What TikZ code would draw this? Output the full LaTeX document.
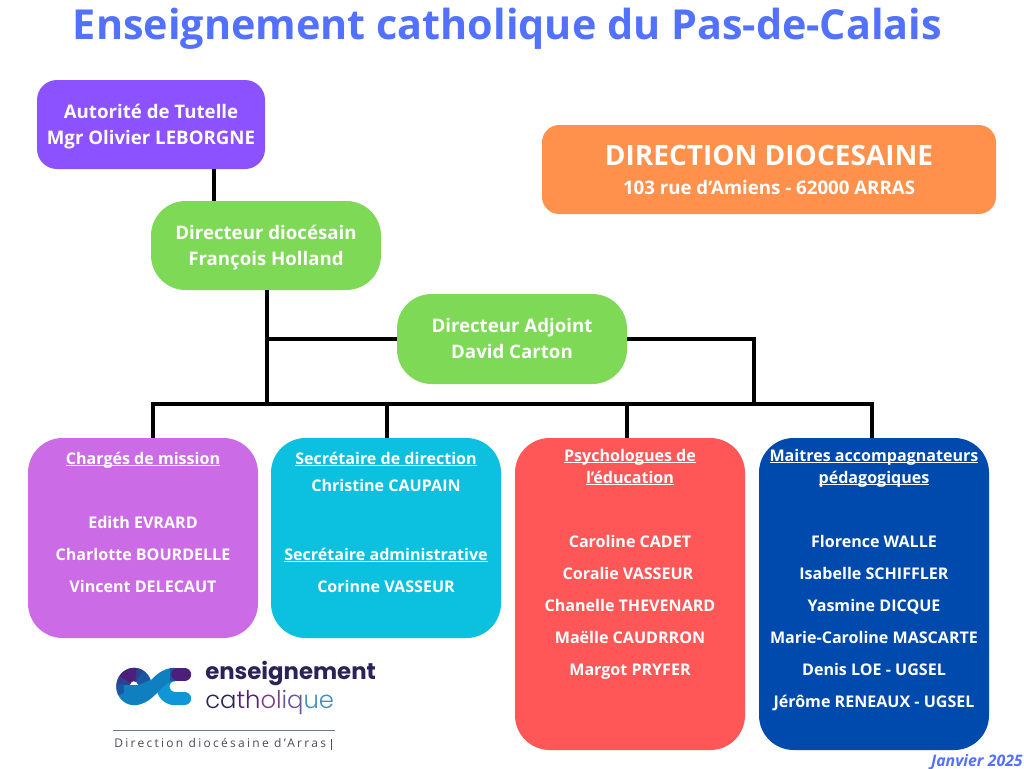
\documentclass[tikz,border=0pt]{standalone}
\usepackage{fontspec}
\setmainfont{Open Sans}
\newfontfamily\logofont{Poppins}
\newfontfamily\logolightfont{Poppins Light}
\newfontfamily\dirfont[LetterSpace=19]{Open Sans}
\definecolor{titleblue}{HTML}{5271FF}
\definecolor{cpurple}{HTML}{8C52FF}
\definecolor{corange}{HTML}{FF914D}
\definecolor{cgreen}{HTML}{7ED957}
\definecolor{cviolet}{HTML}{CB6CE6}
\definecolor{ccyan}{HTML}{0CC0DF}
\definecolor{cred}{HTML}{FF5757}
\definecolor{cblue}{HTML}{004AAD}
\definecolor{logonavy}{HTML}{2A2358}
\definecolor{logoblue}{HTML}{0F7FC0}
\definecolor{logolight}{HTML}{0F96D6}
\definecolor{logodark}{HTML}{1D55A0}
\definecolor{logoplum}{HTML}{4B1F7A}
\definecolor{logomid}{HTML}{7A3E86}
\definecolor{logoteal}{HTML}{3F8FB8}
\definecolor{slateline}{HTML}{6C7A90}
\definecolor{slatetext}{HTML}{4A4A60}
\tikzset{
  box/.style={rectangle,inner sep=0pt,outer sep=0pt,anchor=north west},
  conn/.style={draw=black,line width=3pt,line cap=butt,line join=miter},
  tl/.style={text=white,font=\fontsize{12.05}{14}\selectfont\bfseries,inner sep=0pt,anchor=base},
  tb/.style={tl,font=\fontsize{14}{16}\selectfont\bfseries},
  ecseg/.style={line width=10pt,line cap=butt,line join=round},
}
\newsavebox{\ulbox}
\newcommand{\ul}[1]{\sbox{\ulbox}{#1}\rlap{\rule[-1.6pt]{\wd\ulbox}{0.7pt}}\usebox{\ulbox}}
\begin{document}
\begin{tikzpicture}[x=0.75pt,y=-0.75pt]
\useasboundingbox (0,0) rectangle (1024,768);
\fill[white] (0,0) rectangle (1024,768);
\node[text=titleblue,font=\fontsize{31}{36}\selectfont\bfseries,inner sep=0pt,anchor=base] (title) at (507.5,39) {Enseignement catholique du Pas-de-Calais};
% connector helpers
\coordinate (bus) at (267,404);
\coordinate (busL) at (151,404);
\coordinate (busR) at (874,404);
\coordinate (elbow) at (754,339);
\coordinate (dirout) at (267,290);
\coordinate (t1) at (214,169);
% boxes
\node[box,fill=cpurple,rounded corners=15pt,minimum width=171pt,minimum height=66.75pt] (tutelle) at (37,80) {};
\node[box,fill=cgreen,rounded corners=26pt,minimum width=172.5pt,minimum height=66.75pt] (dir) at (151,201) {};
\node[box,fill=cgreen,rounded corners=26pt,minimum width=172.5pt,minimum height=67.5pt] (adj) at (397,294) {};
\node[box,fill=corange,rounded corners=13pt,minimum width=340.5pt,minimum height=66.75pt] (dd) at (542,125) {};
\node[box,fill=cviolet,rounded corners=26pt,minimum width=172.5pt,minimum height=150pt] (miss) at (28,438) {};
\node[box,fill=ccyan,rounded corners=26pt,minimum width=172.5pt,minimum height=150pt] (secr) at (271,438) {};
\node[box,fill=cred,rounded corners=26pt,minimum width=172.5pt,minimum height=234pt] (psy) at (515,438) {};
\node[box,fill=cblue,rounded corners=26pt,minimum width=172.5pt,minimum height=234pt] (map) at (759,438) {};
% connectors
\draw[conn] (t1) -- (t1 |- dir.north);
\draw[conn] (dirout) -- (bus);
\draw[conn] (dirout |- adj.west) -- (adj.west);
\draw[conn] (adj.east) -- (elbow) -- (elbow |- bus);
\draw[conn] (busL) -- (busR);
\draw[conn] (153,404) -- (153,404 |- miss.north);
\draw[conn] (387,404) -- (387,404 |- secr.north);
\draw[conn] (627,404) -- (627,404 |- psy.north);
\draw[conn] (872,404) -- (872,404 |- map.north);
% box texts
\node[tb] (t1a) at (151,118) {Autorité de Tutelle};
\node[tb] (t1b) at (151,144) {Mgr Olivier LEBORGNE};
\node[tb] (d1) at (266,239) {Directeur diocésain};
\node[tb] (d2) at (266,265) {François Holland};
\node[tb] (a1) at (512,332) {Directeur Adjoint};
\node[tb] (a2) at (512,358) {David Carton};
\node[tl,font=\fontsize{21}{25}\selectfont\bfseries] (dd1) at (769,165) {DIRECTION DIOCESAINE};
\node[tb] (dd2) at (769,194) {103 rue d’Amiens - 62000 ARRAS};
% Chargés de mission
\node[tl] (m0) at (143,464) {\ul{Chargés de mission}};
\node[tl] (m1) at (143,528) {Edith EVRARD};
\node[tl] (m2) at (143,560) {Charlotte BOURDELLE};
\node[tl] (m3) at (143,592) {Vincent DELECAUT};
% Secrétaires
\node[tl] (s0) at (386,464) {\ul{Secrétaire de direction}};
\node[tl] (s1) at (386,491) {Christine CAUPAIN};
\node[tl] (s2) at (386,560) {\ul{Secrétaire administrative}};
\node[tl] (s3) at (386,592) {Corinne VASSEUR};
% Psychologues
\node[tl] (p0) at (630,461) {\ul{Psychologues de}};
\node[tl] (p0b) at (630,483) {\ul{l’éducation}};
\node[tl] (p1) at (630,547) {Caroline CADET};
\node[tl] (p2) at (628,579) {Coralie VASSEUR};
\node[tl] (p3) at (630,611) {Chanelle THEVENARD};
\node[tl] (p4) at (630,643) {Maëlle CAUDRRON};
\node[tl] (p5) at (630,675) {Margot PRYFER};
% Maitres
\node[tl] (c0) at (874,461) {\ul{Maitres accompagnateurs}};
\node[tl] (c0b) at (874,483) {\ul{pédagogiques}};
\node[tl] (c1) at (874,547) {Florence WALLE};
\node[tl] (c2) at (874,579) {Isabelle SCHIFFLER};
\node[tl] (c3) at (874,611) {Yasmine DICQUE};
\node[tl] (c4) at (874,643) {Marie-Caroline MASCARTE};
\node[tl] (c5) at (874,675) {Denis LOE - UGSEL};
\node[tl] (c6) at (874,707) {Jérôme RENEAUX - UGSEL};
% date
\node[text=titleblue,font=\fontsize{11.9}{14}\selectfont\bfseries\itshape,inner sep=0pt,anchor=base east] (date) at (1023,766) {Janvier 2025};
% logo mark: e and c built from short strokes of graded colour
\begin{scope}
  % c
  \draw[ecseg,logolight,line cap=round] (175,698.5) -- (184.5,698.5);
  \draw[ecseg,logolight] plot[domain=90:271,samples=25,smooth] ({175+12*cos(\x)},{686.5-12*sin(\x)});
  % e
  \draw[ecseg,logoblue] plot[domain=-5:290,samples=40,smooth] ({134+11*cos(\x)},{686.5-12*sin(\x)});
  \foreach \a/\b/\c in {20/70/logodark,60/85/logodark!60!logoplum,80/150/logoplum,145/175/logodark!60!logoplum,170/210/logodark}{
    \draw[ecseg,\c] plot[domain=\a:\b,samples=8] ({134+11*cos(\x)},{686.5-12*sin(\x)});
  }
  \draw[logoblue,line width=6.5pt] (124,689) -- (146,689);
  % tail of e sweeping into the top of c
  \draw[ecseg,logoblue] (133,698.5) .. controls (152,698.5) and (156,674.5) .. (175,674.5);
  \draw[ecseg,logodark] (170,674.5) -- (178.5,674.5);
  \draw[ecseg,logoplum,line cap=round] (178,674.5) -- (184.5,674.5);
\end{scope}
\node[text=logonavy,font=\logofont\fontsize{17.1}{22}\selectfont\bfseries,inner sep=0pt,anchor=base west] (l1) at (205,679) {enseignement};
\node[font=\logolightfont\fontsize{18.2}{22}\selectfont,inner sep=0pt,anchor=base west] (l2) at (205,708) {\textcolor{logonavy}{ca}\textcolor{logoplum}{th}\textcolor{logomid}{ol}\textcolor{logomid!70!logoteal}{iq}\textcolor{logoteal}{ue}};
\fill[slateline] (113,730.2) rectangle (335,731.2);
\node[text=slatetext,font=\dirfont\fontsize{9}{10}\selectfont,inner sep=0pt,anchor=base west] (l3) at (114,747.5) {Direction diocésaine d’Arras};
\fill[slatetext] (330.6,739) rectangle (331.6,750);
\end{tikzpicture}
\end{document}
